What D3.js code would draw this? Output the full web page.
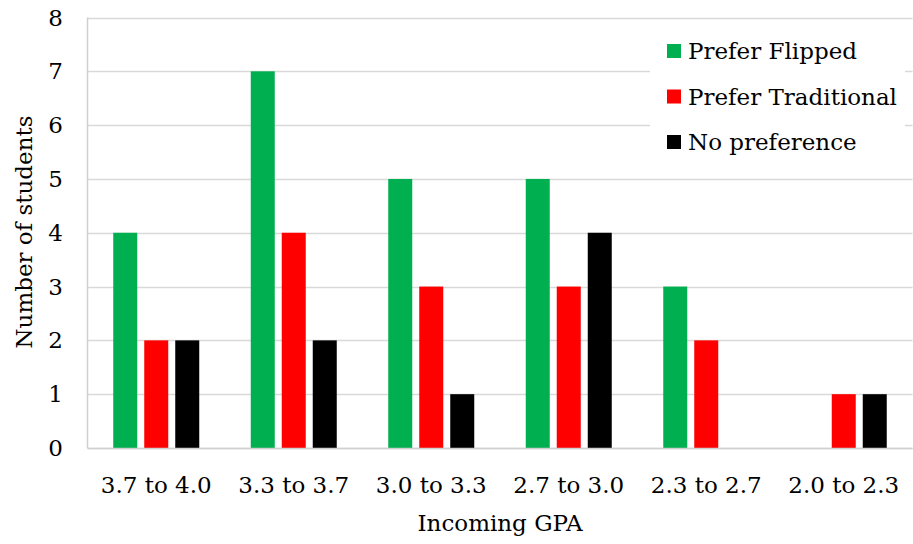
<!DOCTYPE html>
<html><head><meta charset="utf-8">
<script src="https://cdn.jsdelivr.net/npm/d3@7"></script>
<style>body{margin:0;background:#fff;}</style>
</head><body>
<svg id="c" width="913" height="544"></svg>
<script>
const categories = ["3.7 to 4.0","3.3 to 3.7","3.0 to 3.3","2.7 to 3.0","2.3 to 2.7","2.0 to 2.3"];
const seriesNames = ["Prefer Flipped","Prefer Traditional","No preference"];
const preferFlipped = [4,7,5,5,3,0];
const preferTraditional = [2,4,3,3,2,1];
const noPreference = [2,2,1,4,0,1];
const yTicks = [0,1,2,3,4,5,6,7,8];
const colors = ["#00b050","#ff0000","#000000"];
const seriesValues = [preferFlipped, preferTraditional, noPreference];
const FONT = "'DejaVu Serif', serif";

const svg = d3.select("#c");
const L = 87.5, R = 912.5, T = 17.5, B = 448;
const x = d3.scaleBand().domain(categories).range([L, R]);
const y = d3.scaleLinear().domain([0,8]).range([B, T]);
const barW = 24, step = 31;

svg.append("g").selectAll("line").data(yTicks).join("line")
  .attr("x1", L).attr("x2", R)
  .attr("y1", d => Math.round(y(d))+0.5).attr("y2", d => Math.round(y(d))+0.5)
  .attr("stroke", "#d9d9d9").attr("stroke-width", 1.5);
svg.append("line").attr("x1", L).attr("x2", L).attr("y1", T).attr("y2", B)
  .attr("stroke", "#d0d0d0").attr("stroke-width", 1.5);

seriesValues.forEach((vals, si) => {
  svg.append("g").selectAll("rect").data(vals.map((v,i)=>({v, c: categories[i]}))).join("rect")
    .attr("x", d => x(d.c) + x.bandwidth()/2 - step - barW/2 + si*step)
    .attr("width", barW)
    .attr("y", d => y(d.v))
    .attr("height", d => B - y(d.v))
    .attr("fill", colors[si]);
});
svg.append("line").attr("x1", L).attr("x2", R).attr("y1", B+0.5).attr("y2", B+0.5)
  .attr("stroke", "#d0d0d0").attr("stroke-width", 1.5);

function txt(sel){ return sel.style("font-family", FONT).style("font-size","23px").attr("fill","#000"); }

txt(svg.append("g").selectAll("text").data(yTicks).join("text")
  .attr("x", 63).attr("y", d => y(d)).attr("dy", "0.35em")
  .attr("text-anchor", "end").text(d => d));
txt(svg.append("g").selectAll("text").data(categories).join("text")
  .attr("x", d => x(d) + x.bandwidth()/2).attr("y", 493)
  .attr("text-anchor", "middle").text(d => d));

txt(svg.append("text").attr("x", 500).attr("y", 531).attr("text-anchor","middle").text("Incoming GPA"));
txt(svg.append("text").attr("transform","translate(32,232) rotate(-90)").attr("text-anchor","middle").text("Number of students"));

const lg = svg.append("g");
lg.append("rect").attr("x", 650).attr("y", 28).attr("width", 255).attr("height", 138).attr("fill", "#fff");
seriesNames.forEach((n, i) => {
  const cy = 51 + i*45.5;
  lg.append("rect").attr("x", 667).attr("y", cy-7).attr("width", 14).attr("height", 14).attr("fill", colors[i]);
  txt(lg.append("text").attr("x", 688).attr("y", cy).attr("dy","0.35em").text(n));
});
</script>
</body></html>
